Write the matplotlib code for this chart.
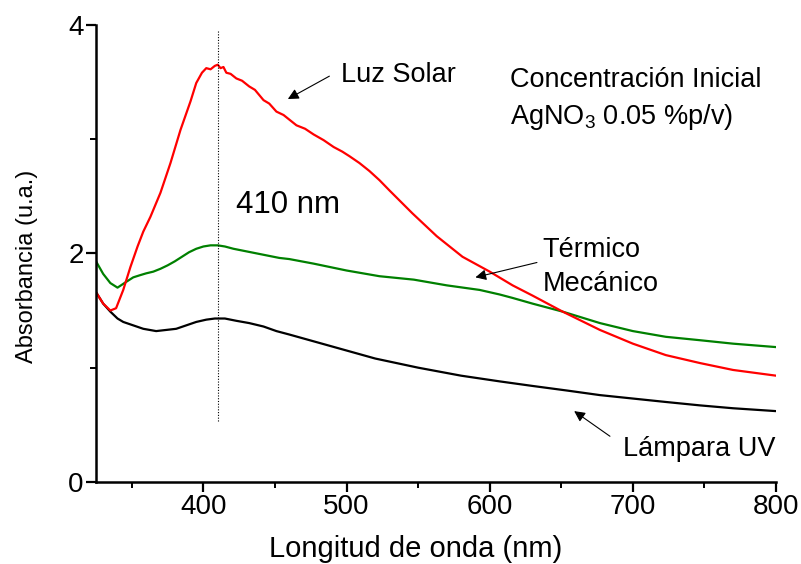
import numpy as np
import matplotlib.pyplot as plt
from matplotlib.ticker import MultipleLocator

plt.rcParams['font.family'] = ['Liberation Sans', 'DejaVu Sans']
plt.rcParams['mathtext.fontset'] = 'custom'
plt.rcParams['mathtext.rm'] = 'Liberation Sans'

# Espectros UV-Vis (longitud de onda en nm, absorbancia en u.a.)
wl_solar = [325, 330, 335, 339, 344, 349, 354, 358, 363, 370, 377, 384, 391, 395,
            399, 402, 405, 408, 410, 412, 414, 416, 419, 423, 427, 432, 436, 442,
            446, 451, 456, 460, 465, 471, 477, 484, 491, 497, 502, 509, 516, 523,
            530, 546, 563, 581, 600, 616, 630, 651, 677, 700, 723, 747, 770, 800]
abs_solar = [1.66, 1.56, 1.50, 1.52, 1.68, 1.88, 2.06, 2.19, 2.32, 2.53, 2.79, 3.08,
             3.33, 3.49, 3.58, 3.62, 3.61, 3.64, 3.65, 3.62, 3.63, 3.58, 3.57, 3.53,
             3.51, 3.46, 3.43, 3.34, 3.31, 3.24, 3.21, 3.17, 3.12, 3.09, 3.04, 2.99,
             2.93, 2.89, 2.85, 2.79, 2.72, 2.64, 2.55, 2.35, 2.15, 1.97, 1.84, 1.72,
             1.63, 1.49, 1.33, 1.21, 1.11, 1.04, 0.98, 0.93]

wl_termico = [325, 330, 335, 340, 346, 351, 356, 360, 365, 370, 375, 380, 385, 390,
              395, 400, 405, 410, 415, 421, 437, 453, 460, 477, 500, 523, 547, 570,
              593, 607, 616, 630, 651, 677, 700, 723, 747, 770, 800]
abs_termico = [1.93, 1.82, 1.74, 1.70, 1.75, 1.79, 1.81, 1.825, 1.84, 1.865, 1.895,
               1.93, 1.97, 2.01, 2.04, 2.06, 2.07, 2.07, 2.06, 2.04, 2.00, 1.96,
               1.95, 1.91, 1.85, 1.80, 1.77, 1.72, 1.68, 1.64, 1.61, 1.56, 1.49,
               1.39, 1.32, 1.27, 1.24, 1.21, 1.18]

wl_uv = [325, 330, 335, 340, 344, 351, 358, 367, 374, 381, 388, 395, 402, 408, 415,
         423, 432, 442, 451, 460, 480, 500, 520, 550, 580, 607, 630, 654, 677, 700,
         723, 747, 770, 800]
abs_uv = [1.66, 1.56, 1.49, 1.43, 1.40, 1.37, 1.34, 1.32, 1.33, 1.34, 1.37, 1.40,
          1.42, 1.43, 1.43, 1.41, 1.39, 1.36, 1.32, 1.29, 1.22, 1.15, 1.08, 1.00,
          0.93, 0.88, 0.84, 0.80, 0.76, 0.73, 0.70, 0.67, 0.645, 0.62]

peak_nm = 410

fig = plt.figure(figsize=(8.01, 5.64), dpi=100)
ax = fig.add_axes([0.1199, 0.1454, 0.8489, 0.8108])

ax.plot(wl_uv, abs_uv, color='black', lw=1.6)
ax.plot(wl_termico, abs_termico, color='#008000', lw=1.6)
ax.plot(wl_solar, abs_solar, color='#ff0000', lw=1.6)

# linea del maximo de plasmon
ax.plot([peak_nm, peak_nm], [0.53, 3.95], color='black', lw=0.8, ls=(0, (1, 1.5)))

fs = 19.5
arrow = dict(arrowstyle='-|>', color='black', lw=0.8, mutation_scale=16,
             shrinkA=0, shrinkB=0)
ax.annotate('', xy=(459, 3.35), xytext=(488, 3.55), arrowprops=arrow)
ax.text(496, 3.56, 'Luz Solar', fontsize=fs, va='center')
ax.annotate('', xy=(590, 1.79), xytext=(633, 1.92), arrowprops=arrow)
ax.text(637, 2.03, 'Térmico', fontsize=fs, va='center')
ax.text(637, 1.73, 'Mecánico', fontsize=fs, va='center')
ax.annotate('', xy=(659, 0.62), xytext=(684, 0.40), arrowprops=arrow)
ax.text(693, 0.29, 'Lámpara UV', fontsize=fs, va='center')
ax.text(423, 2.42, '410 nm', fontsize=22.5, va='center')
ax.text(614, 3.52, 'Concentración Inicial', fontsize=fs, va='center')
ax.text(614, 3.19, r'AgNO$_\mathregular{3}$ 0.05 %p/v)', fontsize=fs, va='center')

ax.set_xlim(325, 800)
ax.set_ylim(0, 4)
ax.xaxis.set_major_locator(MultipleLocator(100))
ax.xaxis.set_minor_locator(MultipleLocator(50))
ax.yaxis.set_major_locator(MultipleLocator(2))
ax.yaxis.set_minor_locator(MultipleLocator(1))
ax.tick_params(which='major', direction='out', length=7, width=1.6,
               labelsize=20, pad=2)
ax.tick_params(which='minor', direction='out', length=4, width=1.4)

for side in ['top', 'right']:
    ax.spines[side].set_visible(False)
for side in ['left', 'bottom']:
    ax.spines[side].set_linewidth(1.8)

ax.set_xlabel('Longitud de onda (nm)', fontsize=21)
ax.set_ylabel('Absorbancia (u.a.)', fontsize=17)
ax.xaxis.set_label_coords(0.47, -0.115)
ax.yaxis.set_label_coords(-0.085, 0.472)

fig.savefig('out.png', dpi=100)
